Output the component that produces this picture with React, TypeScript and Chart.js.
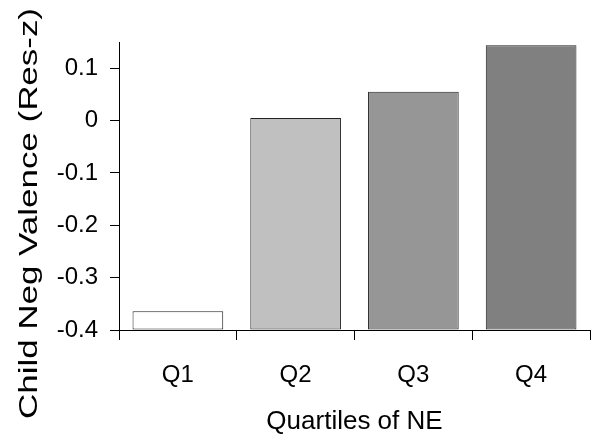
import React, { useEffect, useRef } from "react";
import { Chart, registerables } from "chart.js";

Chart.register(...registerables);

const categories = ["Q1", "Q2", "Q3", "Q4"];
const values = [-0.364, 0.005, 0.055, 0.144];
const barColors = ["#ffffff", "#c0c0c0", "#969696", "#808080"];
const yTicks = [-0.4, -0.3, -0.2, -0.1, 0, 0.1];
const yTitle = "Child Neg Valence (Res-z)";
const xTitle = "Quartiles of NE";

const FONT = "'Liberation Sans', Arial, sans-serif";

const yTitlePlugin = {
  id: "yTitleStretched",
  afterDraw(chart: any) {
    const ctx = chart.ctx as CanvasRenderingContext2D;
    ctx.save();
    ctx.translate(37, 213.5);
    ctx.rotate(-Math.PI / 2);
    ctx.font = `26px ${FONT}`;
    const w = ctx.measureText(yTitle).width;
    const target = 411;
    ctx.scale(target / w, 1);
    ctx.fillStyle = "#000";
    ctx.textAlign = "center";
    ctx.textBaseline = "alphabetic";
    ctx.fillText(yTitle, 0, 0);
    ctx.restore();
  },
};

export default function App() {
  const ref = useRef<HTMLCanvasElement>(null);
  useEffect(() => {
    document.body.style.margin = "0";
    const ctx = ref.current!.getContext("2d")!;
    const chart = new Chart(ctx, {
      type: "bar",
      data: {
        labels: categories,
        datasets: [
          {
            data: values,
            base: -0.4,
            backgroundColor: barColors,
            borderColor: "#222222",
            borderWidth: 1,
            borderSkipped: false,
            barPercentage: 0.77,
            categoryPercentage: 1,
          } as any,
        ],
      },
      plugins: [yTitlePlugin],
      options: {
        animation: false,
        responsive: false,
        maintainAspectRatio: false,
        layout: { padding: { top: 42, right: 10, left: 0, bottom: 0 } },
        plugins: { legend: { display: false }, tooltip: { enabled: false } },
        scales: {
          x: {
            offset: true,
            grid: {
              offset: true,
              drawOnChartArea: false,
              drawTicks: true,
              tickLength: 10,
              color: "#000",
            },
            border: { color: "#000", width: 1 },
            ticks: { color: "#000", font: { family: FONT, size: 24 }, padding: 21 },
            title: {
              display: true,
              text: xTitle,
              color: "#000",
              font: { family: FONT, size: 26 },
              padding: { top: 10, bottom: 7 },
            },
            afterFit: (s: any) => {
              s.height = 114;
            },
          },
          y: {
            min: -0.4,
            max: 0.15,
            grid: {
              drawOnChartArea: false,
              drawTicks: true,
              tickLength: 9,
              color: "#000",
            },
            border: { color: "#000", width: 1 },
            afterBuildTicks: (s: any) => {
              s.ticks = yTicks.map((v) => ({ value: v }));
            },
            ticks: {
              color: "#000",
              font: { family: FONT, size: 24 },
              padding: 12,
              callback: (v: any) => {
                const n = Number(v);
                return Math.abs(n) < 1e-9 ? "0" : n.toFixed(1);
              },
            },
            title: { display: false },
            afterFit: (s: any) => {
              s.width = 119;
            },
          },
        },
      },
    });
    return () => chart.destroy();
  }, []);
  return (
    <div style={{ position: "absolute", left: 0, top: 0, width: 600, height: 444 }}>
      <canvas ref={ref} width={600} height={444} style={{ width: 600, height: 444 }} />
    </div>
  );
}
